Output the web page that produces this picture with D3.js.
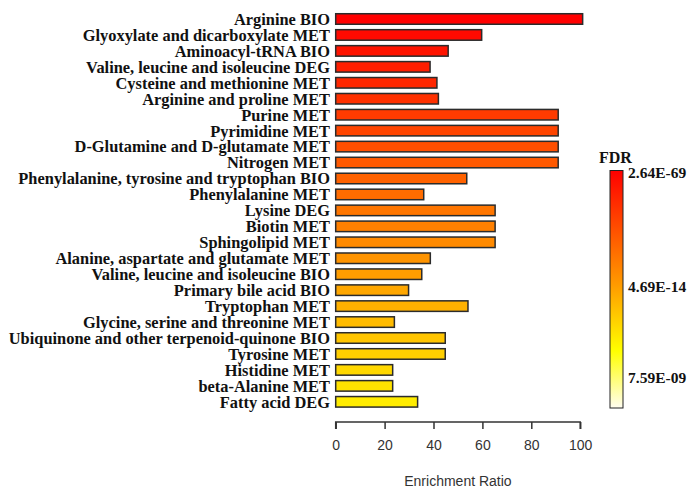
<!DOCTYPE html>
<html lang="en">
<head>
  <meta charset="UTF-8">
  <title>Enrichment Ratio</title>
  <script src="https://d3js.org/d3.v7.min.js"></script>
</head>
<body style="background-color: white; margin: 0; padding: 0;">
    <svg width="690" height="488" id="chart"></svg>

    <script>
    // Pathways, top to bottom
    const pathways = [
      "Arginine BIO", "Glyoxylate and dicarboxylate MET", "Aminoacyl-tRNA BIO",
      "Valine, leucine and isoleucine DEG", "Cysteine and methionine MET",
      "Arginine and proline MET", "Purine MET", "Pyrimidine MET",
      "D-Glutamine and D-glutamate MET", "Nitrogen MET",
      "Phenylalanine, tyrosine and tryptophan BIO", "Phenylalanine MET",
      "Lysine DEG", "Biotin MET", "Sphingolipid MET",
      "Alanine, aspartate and glutamate MET", "Valine, leucine and isoleucine BIO",
      "Primary bile acid BIO", "Tryptophan MET", "Glycine, serine and threonine MET",
      "Ubiquinone and other terpenoid-quinone BIO", "Tyrosine MET",
      "Histidine MET", "beta-Alanine MET", "Fatty acid DEG"
    ];
    // Enrichment ratio
    const ratios = [
      101, 59.7, 46, 38.6, 41.4,
      42, 91, 91, 91, 91,
      53.6, 36, 65.2, 65.2, 65.2,
      38.7, 35.2, 29.8, 54.1, 24,
      44.8, 44.8, 23.3, 23.3, 33.5
    ];
    const xTicks = [0, 20, 40, 60, 80, 100];
    const fdrLabels = ["2.64E-69", "4.69E-14", "7.59E-09"];

    const width = 690;
    const height = 488;

    const svg = d3.select("#chart")
      .attr("width", width)
      .attr("height", height);

    const data = pathways.map((p, i) => ({ name: p, value: ratios[i], rank: i }));

    // Scales
    const x = d3.scaleLinear()
      .domain([0, 100])
      .range([335.7, 580.2]);

    const y = d3.scaleBand()
      .domain(pathways)
      .range([8.3, 412.5])
      .padding(0.34);

    // colour follows the FDR order (most significant = red)
    const color = d3.scaleLinear()
      .domain([0, pathways.length - 1])
      .range(["#ff0000", "#ffec00"]);

    // Bars
    svg.append("g")
      .selectAll("rect")
      .data(data)
      .enter().append("rect")
      .attr("x", x(0))
      .attr("y", d => y(d.name))
      .attr("width", d => x(d.value) - x(0))
      .attr("height", y.bandwidth())
      .style("fill", d => color(d.rank))
      .style("stroke", "#2b2b2b")
      .style("stroke-width", 1.5);

    // Labels
    svg.append("g")
      .selectAll("text")
      .data(data)
      .enter().append("text")
      .attr("x", 330)
      .attr("y", d => y(d.name) + y.bandwidth() / 2)
      .attr("dy", "0.36em")
      .attr("text-anchor", "end")
      .style("font-family", "'Liberation Serif', 'Times New Roman', serif")
      .style("font-weight", "bold")
      .style("font-size", "16.4px")
      .style("fill", "#111")
      .text(d => d.name);

    // X axis
    const xAxis = svg.append("g")
      .attr("transform", "translate(0,422)")
      .call(d3.axisBottom(x).tickValues(xTicks).tickSize(7).tickPadding(11));
    xAxis.select(".domain").style("stroke", "#333").style("stroke-width", 1.5)
      .attr("d", `M${x(0)},7V0H${x(100)}V7`);
    xAxis.selectAll(".tick line").style("stroke", "#333").style("stroke-width", 1.5);
    xAxis.selectAll(".tick text")
      .style("font-family", "'Liberation Sans', Arial, sans-serif")
      .style("font-size", "14px")
      .style("fill", "#333");

    svg.append("text")
      .attr("x", (x(0) + x(100)) / 2)
      .attr("y", 486)
      .attr("text-anchor", "middle")
      .style("font-family", "'Liberation Sans', Arial, sans-serif")
      .style("font-size", "14px")
      .style("fill", "#333")
      .text("Enrichment Ratio");

    // FDR legend
    const defs = svg.append("defs");
    const grad = defs.append("linearGradient")
      .attr("id", "fdrGrad")
      .attr("x1", "0").attr("y1", "0").attr("x2", "0").attr("y2", "1");
    grad.append("stop").attr("offset", "0%").attr("stop-color", "#ff0000");
    grad.append("stop").attr("offset", "48%").attr("stop-color", "#ff9a00");
    grad.append("stop").attr("offset", "76%").attr("stop-color", "#ffff00");
    grad.append("stop").attr("offset", "100%").attr("stop-color", "#fffdf0");

    const legY = d3.scaleLinear().domain([0, 1]).range([170.5, 408]);

    svg.append("rect")
      .attr("x", 610)
      .attr("y", legY(0))
      .attr("width", 13)
      .attr("height", legY(1) - legY(0))
      .style("fill", "url(#fdrGrad)")
      .style("stroke", "#222")
      .style("stroke-width", 1);

    svg.append("text")
      .attr("x", 599)
      .attr("y", 163)
      .style("font-family", "'Liberation Serif', 'Times New Roman', serif")
      .style("font-weight", "bold")
      .style("font-size", "16px")
      .style("fill", "#111")
      .text("FDR");

    const labelPos = [0.01, 0.49, 0.87];
    svg.append("g")
      .selectAll("text")
      .data(fdrLabels)
      .enter().append("text")
      .attr("x", 628)
      .attr("y", (d, i) => legY(labelPos[i]))
      .attr("dy", "0.35em")
      .style("font-family", "'Liberation Serif', 'Times New Roman', serif")
      .style("font-weight", "bold")
      .style("font-size", "15.5px")
      .style("fill", "#111")
      .text(d => d);
    </script>
</body>
</html>
